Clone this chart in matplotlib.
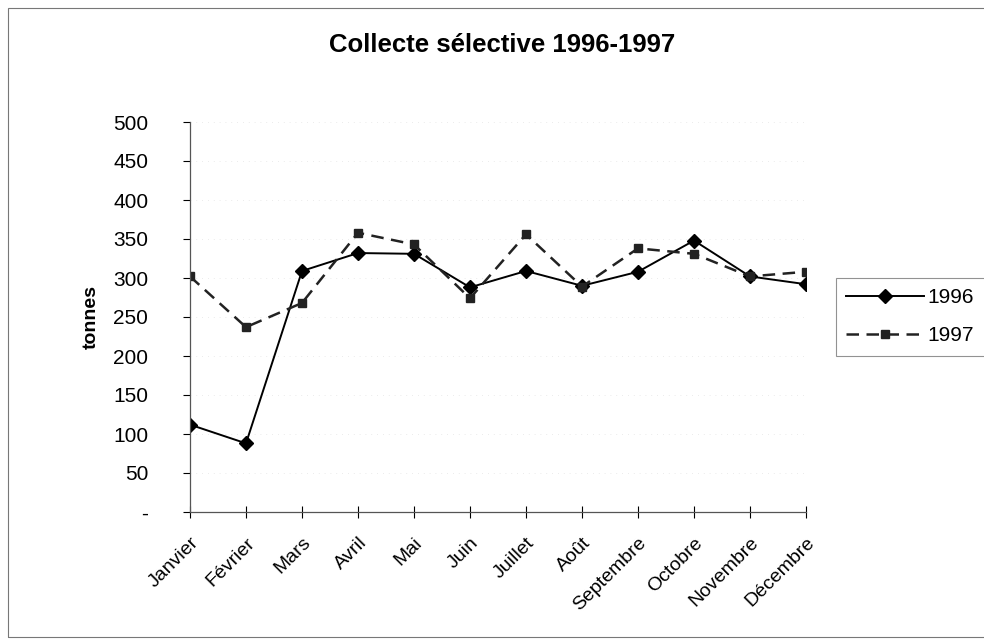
import matplotlib.pyplot as plt
from matplotlib.patches import Rectangle

# données
mois = ['Janvier', 'Février', 'Mars', 'Avril', 'Mai', 'Juin', 'Juillet',
        'Août', 'Septembre', 'Octobre', 'Novembre', 'Décembre']
t1996 = [112, 88, 309, 332, 331, 288, 309, 290, 308, 348, 302, 292]
t1997 = [302, 237, 268, 358, 343, 274, 356, 289, 338, 331, 302, 308]
yticks = [0, 50, 100, 150, 200, 250, 300, 350, 400, 450, 500]
ylabels = ['-'] + [str(v) for v in yticks[1:]]

plt.rcParams['font.family'] = ['Liberation Sans', 'DejaVu Sans']

fig = plt.figure(figsize=(9.84, 6.43), dpi=100)
ax = fig.add_axes([190/984, 1 - 512/643, (806-190)/984, (512-122)/643])

x = list(range(len(mois)))
ax.plot(x, t1996, color='black', lw=1.4, marker='D', ms=7, label='1996')
ax.plot(x, t1997, color='#222222', lw=1.8, ls=(0, (5, 3)), marker='s', ms=6,
        label='1997')

ax.set_xlim(0, 11)
ax.set_ylim(0, 500)
ax.set_yticks(yticks)
ax.set_yticklabels(ylabels, fontsize=15)
ax.set_xticks(x)
ax.set_xticklabels(mois, rotation=45, ha='right', rotation_mode='anchor',
                   fontsize=14)
ax.tick_params(axis='x', direction='inout', length=8, width=0.8, pad=12)
ax.tick_params(axis='y', direction='out', length=5, width=0.8, pad=25)
for y in yticks[1:]:
    ax.axhline(y, color='#e4e4e4', lw=0.6, ls=(0, (1, 6)), zorder=0)

for s in ['top', 'right']:
    ax.spines[s].set_visible(False)
for s in ['left', 'bottom']:
    ax.spines[s].set_color('#555555')
    ax.spines[s].set_linewidth(0.9)

ax.set_ylabel('tonnes', fontsize=14, fontweight='bold')
ax.yaxis.set_label_coords(-(190-100)/616, 0.5)

fig.text(0.51, 1 - 45/643, 'Collecte sélective 1996-1997', ha='center',
         va='center', fontsize=18.5, fontweight='bold')

leg = fig.legend(loc='upper left', bbox_to_anchor=(836/984, 1 - 278/643),
                 fontsize=15, frameon=True, fancybox=False, handlelength=3.7,
                 borderpad=0.5, borderaxespad=0, labelspacing=0.9,
                 handletextpad=0.2)
leg.get_frame().set_edgecolor('#777777')
leg.get_frame().set_linewidth(0.8)

fig.patches.append(Rectangle((8/984, 1 - 637/643), 985/984, 629/643,
                             transform=fig.transFigure, fill=False,
                             edgecolor='#777777', lw=0.8))

plt.savefig('out.png', dpi=100)
